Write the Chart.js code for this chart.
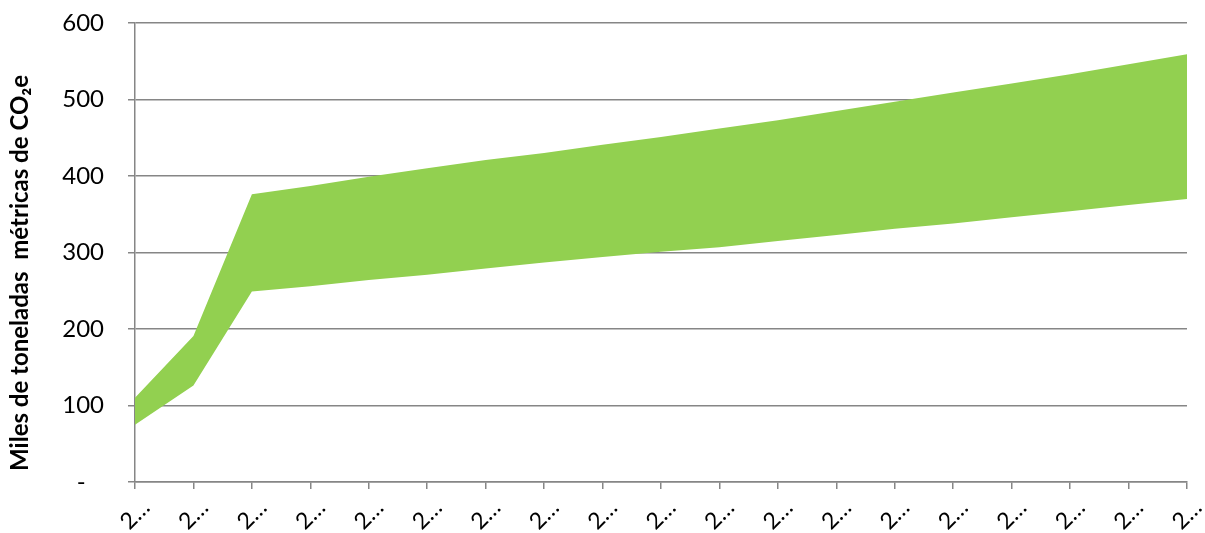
<!DOCTYPE html>
<html>
<head>
<meta charset="utf-8">
<script src="https://cdn.jsdelivr.net/npm/chart.js@4/dist/chart.umd.min.js"></script>
<style>
  html, body { margin: 0; padding: 0; background: #fff; }
  #wrap { width: 1205px; height: 533px; }
</style>
</head>
<body>
<div id="wrap"><canvas id="co2Chart" width="1205" height="533"></canvas></div>
<script>
// ===== DATA =====
const categories = ["2…", "2…", "2…", "2…", "2…", "2…", "2…", "2…", "2…", "2…",
                    "2…", "2…", "2…", "2…", "2…", "2…", "2…", "2…", "2…"];
const lowValues  = [75, 126, 249, 256, 264, 271, 279, 287, 294, 301,
                    307, 315, 323, 331, 338, 346, 354, 362, 370];
const highValues = [110, 191, 376, 387, 399, 410, 421, 430, 441, 451,
                    462, 473, 485, 497, 509, 521, 533, 546, 559];
const yTicks = [0, 100, 200, 300, 400, 500, 600];

const GREEN = "#92D050";
const GRID = "#868686";
const FONT = "Lato, 'Open Sans', sans-serif";

// ===== CHART =====
new Chart(document.getElementById("co2Chart"), {
    type: "line",
    data: {
        labels: categories,
        datasets: [
            {
                label: "Bajo",
                data: lowValues,
                borderWidth: 0,
                pointRadius: 0,
                fill: false
            },
            {
                label: "Alto",
                data: highValues,
                borderWidth: 0,
                pointRadius: 0,
                backgroundColor: GREEN,
                fill: "-1"
            }
        ]
    },
    options: {
        responsive: false,
        animation: false,
        layout: { padding: { left: 0, right: 18, top: 23, bottom: 0 } },
        plugins: {
            legend: { display: false },
            tooltip: { enabled: false }
        },
        scales: {
            x: {
                offset: false,
                grid: { drawOnChartArea: false, color: GRID, lineWidth: 1.5, tickLength: 7 },
                border: { color: GRID, width: 1.5 },
                ticks: {
                    color: "#000",
                    font: { family: FONT, size: 23 },
                    minRotation: 45,
                    maxRotation: 45,
                    labelOffset: 11,
                    padding: 5
                },
                afterFit: s => {
                    s.height = 51;
                    s.paddingLeft = 0;
                    s.paddingRight = 0;
                }
            },
            y: {
                min: 0,
                max: 600,
                afterBuildTicks: s => { s.ticks = yTicks.map(v => ({ value: v })); },
                grid: { color: GRID, lineWidth: 1.5, tickLength: 7 },
                border: { color: GRID, width: 1.5 },
                ticks: {
                    color: "#000",
                    font: { family: FONT, size: 24 },
                    padding: 24,
                    callback: v => v === 0 ? "-   " : v
                },
                title: {
                    display: true,
                    // trailing spaces push the centred title down like the original
                    text: "Miles de toneladas  métricas de CO₂e       ",
                    color: "#000",
                    font: { family: FONT, size: 24, weight: "bold" },
                    padding: { top: 6, bottom: 0 }
                },
                afterFit: s => {
                    s.width = 135;
                    s.paddingTop = 0;
                    s.paddingBottom = 0;
                }
            }
        }
    }
});
</script>
</body>
</html>
